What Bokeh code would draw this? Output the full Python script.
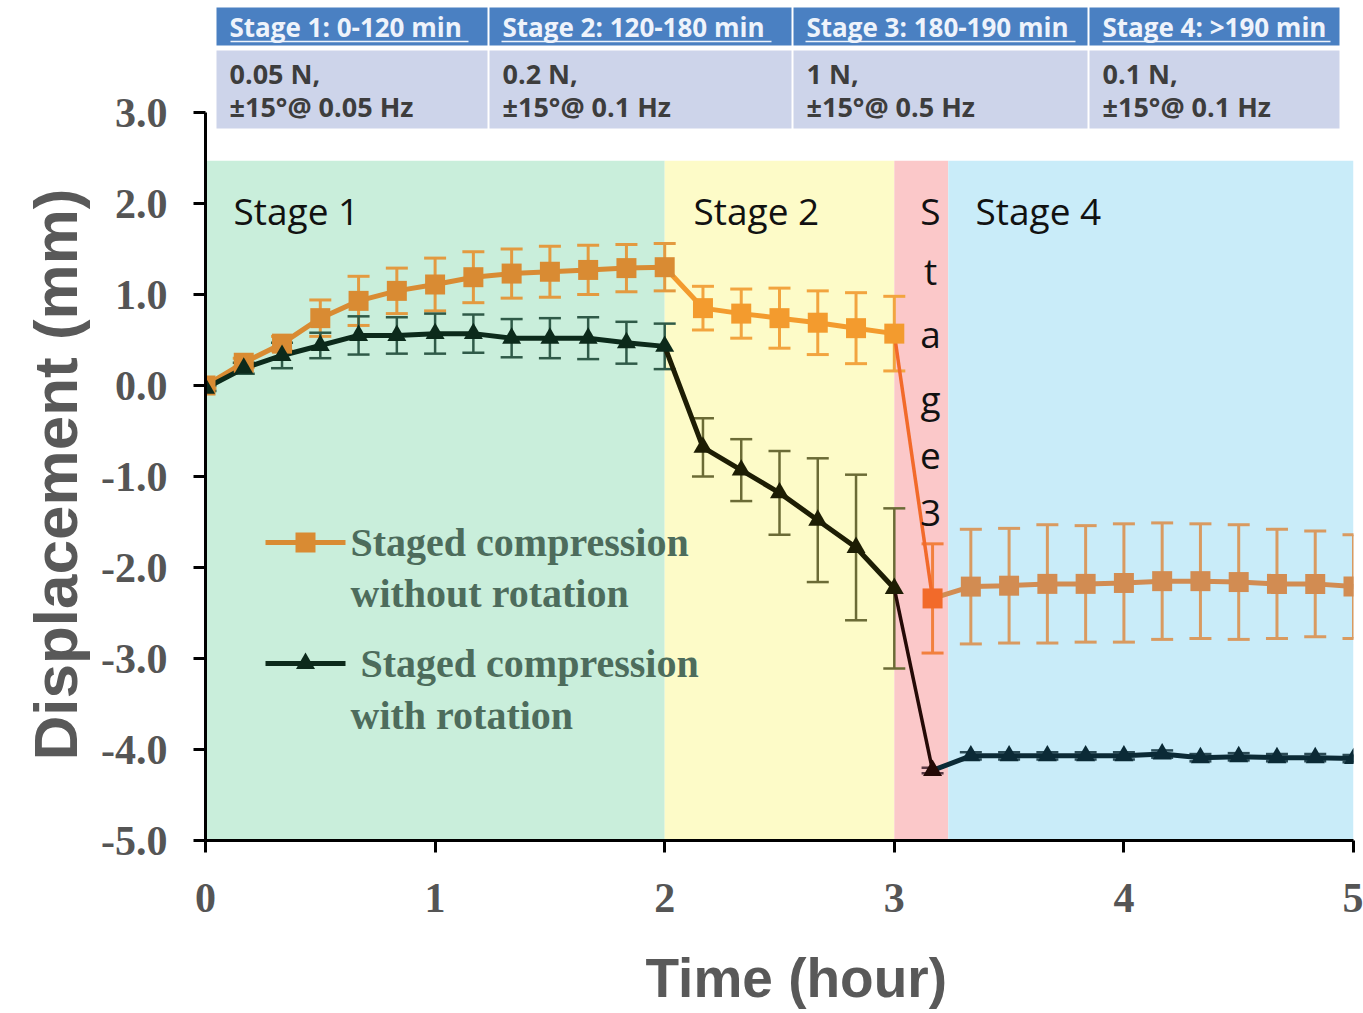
from bokeh.plotting import figure
from bokeh.models import ColumnDataSource, Whisker, TeeHead, FixedTicker, PrintfTickFormatter, Title
from bokeh.embed import file_html
from bokeh.resources import INLINE
from bokeh.core.properties import value

# ---------------- data ----------------
time_min = [0, 10, 20, 30, 40, 50, 60, 70, 80, 90, 100, 110, 120,
            130, 140, 150, 160, 170, 180,
            190,
            200, 210, 220, 230, 240, 250, 260, 270, 280, 290, 300]

disp_no_rot = [0.00, 0.25, 0.46, 0.74, 0.93, 1.04, 1.11, 1.19, 1.23, 1.25, 1.27, 1.29, 1.30,
               0.85, 0.79, 0.74, 0.69, 0.63, 0.57,
               -2.34,
               -2.21, -2.20, -2.18, -2.18, -2.17, -2.15, -2.15, -2.16, -2.18, -2.18, -2.21]
err_no_rot = [0.03, 0.05, 0.08, 0.20, 0.27, 0.25, 0.29, 0.28, 0.27, 0.28, 0.27, 0.26, 0.26,
              0.24, 0.27, 0.33, 0.35, 0.39, 0.41,
              0.60,
              0.63, 0.63, 0.65, 0.64, 0.65, 0.64, 0.63, 0.63, 0.60, 0.58, 0.57]

disp_rot = [-0.03, 0.19, 0.33, 0.44, 0.55, 0.55, 0.57, 0.57, 0.52, 0.52, 0.52, 0.47, 0.43,
            -0.68, -0.93, -1.18, -1.48, -1.78, -2.23,
            -4.23,
            -4.07, -4.07, -4.07, -4.07, -4.07, -4.05, -4.09, -4.08, -4.09, -4.09, -4.10]
err_rot = [0.03, 0.06, 0.14, 0.14, 0.21, 0.20, 0.22, 0.21, 0.21, 0.22, 0.23, 0.23, 0.25,
           0.32, 0.34, 0.46, 0.68, 0.80, 0.88,
           0.03,
           0.04, 0.04, 0.04, 0.04, 0.04, 0.04, 0.04, 0.04, 0.04, 0.04, 0.04]

stage_edges_h = [0, 2, 3, 3.235, 5]
stage_band_top = 2.47
stage_labels = ["Stage 1", "Stage 2", "Stage 3", "Stage 4"]

table_headers = ["Stage 1: 0-120 min", "Stage 2: 120-180 min",
                 "Stage 3: 180-190 min", "Stage 4: >190 min"]
table_load = ["0.05 N,", "0.2 N,", "1 N,", "0.1 N,"]
table_rot = ["\u00b115\u00b0@ 0.05 Hz", "\u00b115\u00b0@ 0.1 Hz",
             "\u00b115\u00b0@ 0.5 Hz", "\u00b115\u00b0@ 0.1 Hz"]

series_names = [["Staged compression", "without rotation"],
                ["Staged compression", "with rotation"]]

x_ticks = [0, 1, 2, 3, 4, 5]
y_ticks = [-5, -4, -3, -2, -1, 0, 1, 2, 3]
x_title = "Time (hour)"
y_title = "Displacement (mm)"

# ---------------- layout helpers (pixel -> data) ----------------
W, H = 1363, 1013
L, R, T, B = 205, 10, 0, 173
X_PER = (W - L - R) / 5.0
Y_PER = 91.0
Y_TOP = 3 + (112 - T) / Y_PER


def px(x):
    return (x - L) / X_PER


def py(y):
    return 3 - (y - 112) / Y_PER


t_h = [m / 60.0 for m in time_min]


def stage_of(t):
    if t <= 2.0001:
        return 0
    if t <= 3.0001:
        return 1
    if t <= 3.2:
        return 2
    return 3


st = [stage_of(t) for t in t_h]

band_colors = ["#c9eedb", "#fdfbc8", "#fbc8c9", "#c9ecf9"]
orange_marker = ["#d98b33", "#f39b2e", "#f26a2a", "#d28c52"]
orange_err = ["#e39a40", "#f2a43f", "#f2803e", "#d99a60"]
black_marker = ["#0c2a1b", "#1d1d04", "#240a06", "#0b2a36"]
black_err = ["#2f5a48", "#6b6b36", "#5a3a44", "#2a4a55"]

p = figure(width=W, height=H, x_range=(0, 5), y_range=(-5, Y_TOP),
           min_border_left=L, min_border_right=R, min_border_top=T, min_border_bottom=B,
           output_backend="svg", toolbar_location=None)
p.outline_line_color = None
p.grid.visible = False
p.background_fill_color = "white"
p.border_fill_color = "white"

# stage bands
bands = p.quad(left=stage_edges_h[:-1], right=stage_edges_h[1:], bottom=-5, top=stage_band_top,
               fill_color=band_colors, line_color=None)
bands.level = "image"


def add_err(xs, ys, es, stages, palette, width):
    for s in range(4):
        idx = [i for i in range(len(xs)) if stages[i] == s]
        src = ColumnDataSource(dict(x=[xs[i] for i in idx],
                                    upper=[ys[i] + es[i] for i in idx],
                                    lower=[ys[i] - es[i] for i in idx]))
        c = palette[s]
        w = Whisker(source=src, base="x", upper="upper", lower="lower",
                    line_color=c, line_width=width,
                    upper_head=TeeHead(size=22, line_color=c, line_width=width),
                    lower_head=TeeHead(size=22, line_color=c, line_width=width))
        w.level = "underlay"
        p.add_layout(w)


add_err(t_h, disp_no_rot, err_no_rot, st, orange_err, 3)
add_err(t_h, disp_rot, err_rot, st, black_err, 2.5)

# lines by segment
segs = [(0, 13, 0), (12, 19, 1), (18, 20, 2), (19, 31, 3)]
for a, b, s in segs:
    lw = 3.5 if s == 2 else 5
    p.line(t_h[a:b], disp_no_rot[a:b], line_color=orange_marker[s], line_width=lw)
for a, b, s in segs:
    lw = 3.5 if s == 2 else 5
    p.line(t_h[a:b], disp_rot[a:b], line_color=black_marker[s], line_width=lw)

p.scatter(t_h, disp_no_rot, marker="square", size=20,
          fill_color=[orange_marker[s] for s in st], line_color=None)
p.scatter(t_h, disp_rot, marker="triangle", size=19,
          fill_color=[black_marker[s] for s in st], line_color=None)

# stage labels
p.text(x=[px(233), px(693), px(975)], y=[py(210)] * 3,
       text=[stage_labels[0], stage_labels[1], stage_labels[3]],
       text_font=value("Open Sans"), text_font_size="37px", text_color="#111111",
       text_baseline="middle", text_align="left")
letters = [ch for ch in stage_labels[2] if ch != " "]
p.text(x=[px(930)] * len(letters), y=[py(v) for v in [210, 270, 333, 398, 455, 512]],
       text=letters, text_font=value("Open Sans"), text_font_size="37px",
       text_color="#111111", text_baseline="middle", text_align="center")

# legend (manual)
leg_font = value("Liberation Serif")
p.line([px(265), px(345)], [py(542)] * 2, line_color="#d98b33", line_width=5)
p.scatter([px(305)], [py(542)], marker="square", size=20, fill_color="#d98b33", line_color=None)
p.line([px(265), px(345)], [py(663)] * 2, line_color="#0c2a1b", line_width=5)
p.scatter([px(305)], [py(663)], marker="triangle", size=19, fill_color="#0c2a1b", line_color=None)
p.text(x=[px(350), px(350), px(360), px(350)],
       y=[py(542), py(593), py(663), py(715)],
       text=[series_names[0][0], series_names[0][1], series_names[1][0], series_names[1][1]],
       text_font=leg_font, text_font_style="bold", text_font_size="40px",
       text_color="#4d6c5c", text_baseline="middle", text_align="left")

# table above the plot
col_px = [215, 488, 792, 1088, 1340]
cl = [px(c + 1) for c in col_px[:-1]]
cr = [px(c - 1) for c in col_px[1:]]
p.quad(left=cl, right=cr, bottom=py(45), top=py(7), fill_color="#4a80c2", line_color=None)
p.quad(left=cl, right=cr, bottom=py(128), top=py(50), fill_color="#cdd4ea", line_color=None)
tx = [px(c + 14) for c in col_px[:-1]]
p.text(x=tx, y=[py(26)] * 4, text=table_headers, text_font=value("Open Sans"),
       text_font_style="bold", text_font_size="26px", text_color="#eef3fb",
       text_baseline="middle", text_align="left")
ul = [(230, 468), (501, 771), (805, 1075), (1102, 1330)]
p.segment(x0=[px(a) for a, b in ul], x1=[px(b) for a, b in ul], y0=[py(41)] * 4, y1=[py(41)] * 4,
          line_color="#eef3fb", line_width=1.5)
p.text(x=tx, y=[py(73)] * 4, text=table_load, text_font=value("Open Sans"),
       text_font_style="bold", text_font_size="27px", text_color="#3d3d3d",
       text_baseline="middle", text_align="left")
p.text(x=tx, y=[py(106)] * 4, text=table_rot, text_font=value("Open Sans"),
       text_font_style="bold", text_font_size="27px", text_color="#3d3d3d",
       text_baseline="middle", text_align="left")

# axes
for ax in (p.xaxis[0], p.yaxis[0]):
    ax.axis_line_width = 3
    ax.axis_line_color = "black"
    ax.major_tick_line_width = 3
    ax.major_tick_line_color = "black"
    ax.major_tick_out = 12
    ax.major_tick_in = 0
    ax.minor_tick_line_color = None
    ax.major_label_text_font = "Liberation Serif"
    ax.major_label_text_font_style = "bold"
    ax.major_label_text_font_size = "42px"
    ax.major_label_text_color = "#555555"

p.xaxis.ticker = FixedTicker(ticks=x_ticks)
p.yaxis.ticker = FixedTicker(ticks=y_ticks)
p.yaxis.formatter = PrintfTickFormatter(format="%.1f")
p.yaxis.bounds = (-5, 3)
p.xaxis.major_label_standoff = 31
p.yaxis.major_label_standoff = 26

# axis titles as side titles (positioned with offset)
p.add_layout(Title(text=" ", text_font_size="1px", standoff=25), "below")
p.add_layout(Title(text=x_title, align="left", offset=440, text_font="Liberation Sans",
                   text_font_style="bold", text_font_size="55px", text_color="#595959",
                   standoff=4), "below")
p.add_layout(Title(text=y_title, align="left", offset=80, text_font="Liberation Sans",
                   text_font_style="bold", text_font_size="62px", text_color="#595959",
                   standoff=18), "left")

open("out.html", "w").write(file_html(p, INLINE))
